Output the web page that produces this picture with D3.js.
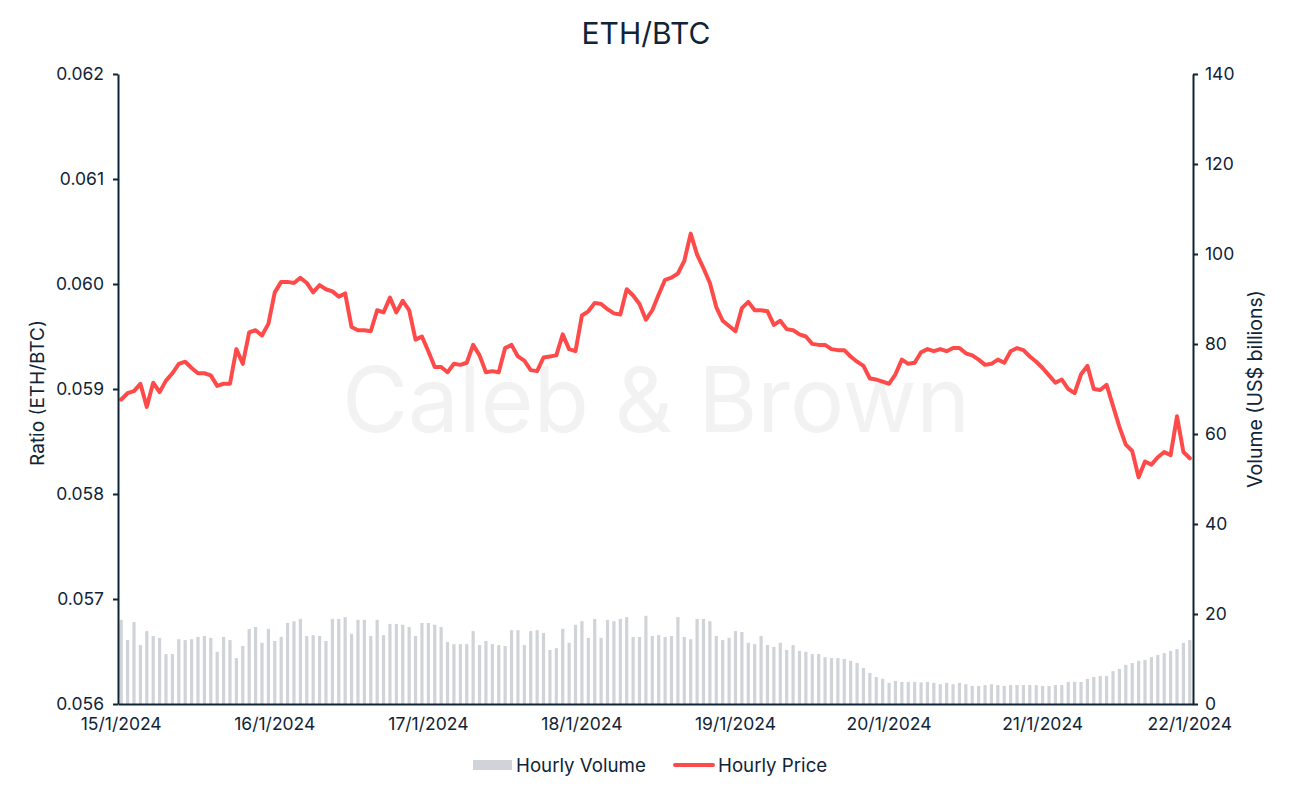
<!DOCTYPE html>
<html>
<head>
<meta charset="utf-8">
<script src="https://cdn.jsdelivr.net/npm/d3@7/dist/d3.min.js"></script>
<style>
  html, body { margin: 0; padding: 0; background: #fff; }
  svg { display: block; font-family: Inter, "Noto Sans", sans-serif; }
</style>
</head>
<body>
<svg id="chart" width="1292" height="794"></svg>
<script>
// ---- data ----
const title = "ETH/BTC";
const dayLabels = ["15/1/2024", "16/1/2024", "17/1/2024", "18/1/2024", "19/1/2024", "20/1/2024", "21/1/2024", "22/1/2024"];
const leftTicks = [0.056, 0.057, 0.058, 0.059, 0.060, 0.061, 0.062];
const rightTicks = [0, 20, 40, 60, 80, 100, 120, 140];
const seriesNames = ["Hourly Volume", "Hourly Price"];

// hourly price ratio (ETH/BTC), 15/1/2024 00:00 onward
const hourlyPrice = [
  0.05890, 0.05896, 0.05898, 0.05905, 0.05883, 0.05906, 0.05897, 0.05908, 0.05915, 0.05924,
  0.05926, 0.05920, 0.05915, 0.05915, 0.05913, 0.05903, 0.05905, 0.05905, 0.05938, 0.05924,
  0.05954, 0.05956, 0.05951, 0.05962, 0.05992, 0.06002, 0.06002, 0.06001, 0.06006, 0.06001,
  0.05992, 0.05999, 0.05995, 0.05993, 0.05988, 0.05991, 0.05959, 0.05956, 0.05956, 0.05955,
  0.05975, 0.05973, 0.05987, 0.05973, 0.05984, 0.05975, 0.05947, 0.05950, 0.05936, 0.05921,
  0.05921, 0.05916, 0.05924, 0.05923, 0.05925, 0.05942, 0.05932, 0.05916, 0.05917, 0.05916,
  0.05939, 0.05942, 0.05931, 0.05927, 0.05918, 0.05917, 0.05930, 0.05931, 0.05932, 0.05952,
  0.05938, 0.05936, 0.05970, 0.05974, 0.05982, 0.05981, 0.05976, 0.05972, 0.05971, 0.05995,
  0.05989, 0.05981, 0.05966, 0.05975, 0.05990, 0.06004, 0.06006, 0.06010, 0.06022, 0.06048,
  0.06028, 0.06015, 0.06001, 0.05978, 0.05965, 0.05960, 0.05955, 0.05977, 0.05983, 0.05975,
  0.05975, 0.05974, 0.05961, 0.05965, 0.05957, 0.05956, 0.05952, 0.05950, 0.05943, 0.05942,
  0.05942, 0.05938, 0.05937, 0.05937, 0.05931, 0.05926, 0.05922, 0.05910, 0.05909, 0.05907,
  0.05905, 0.05914, 0.05928, 0.05924, 0.05925, 0.05935, 0.05938, 0.05936, 0.05938, 0.05936,
  0.05939, 0.05939, 0.05934, 0.05932, 0.05928, 0.05923, 0.05924, 0.05928, 0.05925, 0.05936,
  0.05939, 0.05937, 0.05931, 0.05926, 0.05920, 0.05913, 0.05906, 0.05909, 0.05900, 0.05896,
  0.05914, 0.05922, 0.05900, 0.05899, 0.05904, 0.05884, 0.05864, 0.05847, 0.05841, 0.05816,
  0.05831, 0.05828, 0.05835, 0.05840, 0.05837, 0.05874, 0.05840, 0.05834
];

// hourly volume (US$ billions)
const hourlyVolume = [
  18.7, 14.2, 18.2, 13.1, 16.2, 15.1, 14.7, 11.1, 11.1, 14.4,
  14.2, 14.4, 14.9, 15.1, 14.7, 11.6, 14.9, 14.2, 10.2, 12.9,
  16.7, 17.1, 13.6, 16.7, 14.0, 14.9, 18.0, 18.4, 18.9, 15.1,
  15.3, 15.1, 14.0, 18.9, 18.9, 19.3, 15.6, 18.7, 18.7, 15.1,
  18.7, 15.3, 17.8, 17.8, 17.6, 17.1, 15.1, 18.0, 18.0, 17.6,
  17.1, 13.8, 13.3, 13.3, 13.3, 16.2, 13.1, 14.0, 13.3, 13.1,
  12.9, 16.4, 16.4, 13.1, 16.2, 16.4, 15.8, 12.0, 12.4, 16.7,
  13.6, 17.6, 18.4, 14.7, 18.9, 14.7, 18.7, 18.4, 18.9, 19.3,
  14.9, 14.9, 19.6, 15.1, 15.3, 14.9, 15.1, 19.3, 14.9, 14.4,
  18.9, 18.9, 18.4, 15.1, 14.2, 14.7, 16.2, 16.0, 13.6, 13.3,
  15.1, 13.1, 12.7, 13.6, 12.0, 13.1, 11.8, 11.6, 11.1, 11.1,
  10.4, 10.2, 10.2, 10.0, 9.6, 9.1, 8.0, 6.9, 6.0, 5.6,
  4.7, 5.1, 4.9, 4.9, 4.9, 4.8, 4.9, 4.7, 4.4, 4.7,
  4.4, 4.7, 4.4, 4.0, 4.0, 4.2, 4.4, 4.2, 4.0, 4.2,
  4.2, 4.2, 4.2, 4.2, 4.0, 4.0, 4.2, 4.2, 4.9, 4.9,
  4.9, 5.6, 6.0, 6.2, 6.2, 7.3, 7.8, 8.7, 9.1, 9.6,
  9.8, 10.4, 10.9, 11.3, 11.8, 12.2, 13.6, 14.2
];

// hour index of each date label (last label placed on the final hour)
const labelHours = [0, 24, 48, 72, 96, 120, 144, 167];

// ---- layout ----
const m = { left: 118, right: 1193, top: 74, bottom: 704 };
const ink = "#0f2437";
const priceColor = "#ff4a4a";
const volColor = "#d0d3d7";

const svg = d3.select("#chart");
const hours = d3.range(hourlyPrice.length);

const x = d3.scaleBand().domain(hours).range([m.left, m.right]).paddingInner(0.5).paddingOuter(0.25);
const yL = d3.scaleLinear().domain([0.056, 0.062]).range([m.bottom, m.top]);
const yR = d3.scaleLinear().domain([0, 140]).range([m.bottom, m.top]);

// watermark
svg.append("text")
  .attr("x", 656).attr("y", 432)
  .attr("text-anchor", "middle")
  .attr("font-size", 90.5)
  .attr("fill", "#f2f2f2")
  .text("Caleb & Brown");

// bars
svg.append("g").selectAll("rect").data(hourlyVolume).join("rect")
  .attr("x", (d, i) => x(i))
  .attr("width", x.bandwidth())
  .attr("y", d => yR(d))
  .attr("height", d => yR(0) - yR(d))
  .attr("fill", volColor);

// price line
const line = d3.line()
  .x((d, i) => x(i) + x.bandwidth() / 2)
  .y(d => yL(d));
svg.append("path")
  .datum(hourlyPrice)
  .attr("d", line)
  .attr("fill", "none")
  .attr("stroke", priceColor)
  .attr("stroke-width", 4)
  .attr("stroke-linejoin", "round")
  .attr("stroke-linecap", "round");

// axes
function styleAxis(g) {
  g.selectAll("path.domain").attr("stroke", ink).attr("stroke-width", 2);
  g.selectAll(".tick line").attr("stroke", ink).attr("stroke-width", 2);
  g.selectAll(".tick text").attr("fill", ink).attr("font-size", 17.5).attr("font-family", "Inter, sans-serif");
}

svg.append("g")
  .attr("transform", `translate(${m.left},0)`)
  .call(d3.axisLeft(yL).tickValues(leftTicks).tickFormat(d3.format(".3f")).tickSize(5).tickSizeOuter(0).tickPadding(9))
  .call(styleAxis);

svg.append("g")
  .attr("transform", `translate(${m.right},0)`)
  .call(d3.axisRight(yR).tickValues(rightTicks).tickSize(5).tickSizeOuter(0).tickPadding(7))
  .call(styleAxis);

svg.append("g")
  .attr("transform", `translate(0,${m.bottom})`)
  .call(d3.axisBottom(x).tickValues(labelHours).tickFormat((d, i) => dayLabels[i]).tickSize(0).tickSizeOuter(0).tickPadding(14))
  .call(styleAxis);

// title
svg.append("text")
  .attr("x", 646).attr("y", 44)
  .attr("text-anchor", "middle")
  .attr("font-size", 30)
  .attr("fill", ink)
  .text(title);

// axis titles
svg.append("text")
  .attr("transform", `translate(44,${(m.top + m.bottom) / 2 + 4}) rotate(-90)`)
  .attr("text-anchor", "middle")
  .attr("font-size", 19)
  .attr("fill", ink)
  .text("Ratio (ETH/BTC)");

svg.append("text")
  .attr("transform", `translate(1262,${(m.top + m.bottom) / 2}) rotate(-90)`)
  .attr("text-anchor", "middle")
  .attr("font-size", 19.5)
  .attr("fill", ink)
  .text("Volume (US$ billions)");

// legend
const lg = svg.append("g");
lg.append("rect").attr("x", 473).attr("y", 760).attr("width", 39).attr("height", 10).attr("fill", volColor);
lg.append("text").attr("x", 516).attr("y", 772).attr("font-size", 18.7).attr("fill", ink).text(seriesNames[0]);
lg.append("line").attr("x1", 675).attr("x2", 713).attr("y1", 765).attr("y2", 765)
  .attr("stroke", priceColor).attr("stroke-width", 4).attr("stroke-linecap", "round");
lg.append("text").attr("x", 718).attr("y", 772).attr("font-size", 18.7).attr("fill", ink).text(seriesNames[1]);
</script>
</body>
</html>
